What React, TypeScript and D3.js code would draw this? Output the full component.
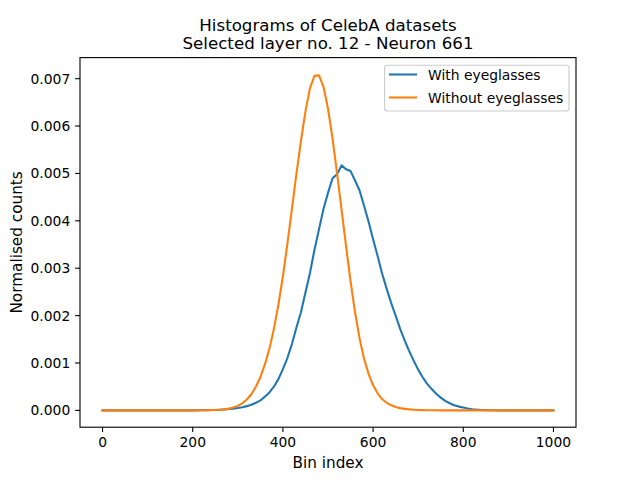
import React from "react";
import * as d3 from "d3";

const binIndex: number[] = d3.range(0, 1001, 10);

const withEyeglasses: number[] = [
  0, 0, 0, 0, 0, 0, 0, 0, 0, 0, 0, 0, 0, 0, 0, 0, 0, 0, 0, 0, 0,
  0.000002, 0.000003, 0.000005, 0.000007, 0.00001, 0.000014, 0.00002, 0.000028, 0.000038, 0.00005,
  0.000068, 0.00009, 0.00012, 0.00016, 0.00021, 0.00029, 0.00038, 0.0005, 0.00066, 0.00087,
  0.00111, 0.0014, 0.00175, 0.00207, 0.00249, 0.0029, 0.00339, 0.00382, 0.00425, 0.00459,
  0.0049, 0.00498, 0.00517, 0.00509, 0.00505, 0.00485, 0.00464, 0.00432, 0.00398, 0.00361,
  0.00326, 0.00289, 0.00257, 0.00227, 0.002, 0.00172, 0.00148, 0.00125, 0.00105, 0.00086,
  0.0007, 0.00056, 0.00045, 0.00035, 0.00027, 0.0002, 0.00015, 0.00011, 0.00008, 0.00006,
  0.00004, 0.000026, 0.000016, 0.00001, 0.000006, 0.000004, 0.000002, 0.000001,
  0, 0, 0, 0, 0, 0, 0, 0, 0, 0, 0, 0,
];

const withoutEyeglasses: number[] = [
  0, 0, 0, 0, 0, 0, 0, 0, 0, 0, 0, 0, 0, 0, 0, 0, 0, 0, 0, 0, 0,
  0.000001, 0.000002, 0.000003, 0.000005, 0.000008, 0.000013, 0.000022, 0.000037, 0.00006, 0.000095,
  0.00015, 0.00023, 0.00034, 0.0005, 0.0007, 0.00097, 0.0013, 0.00172, 0.00223, 0.00283,
  0.00352, 0.00425, 0.00499, 0.00569, 0.00631, 0.0068, 0.00706, 0.00707, 0.00683, 0.00637,
  0.00574, 0.00501, 0.00424, 0.00347, 0.00273, 0.00207, 0.00152, 0.00109, 0.00077, 0.00053,
  0.00036, 0.00024, 0.00016, 0.00011, 0.000072, 0.000048, 0.000032, 0.000021, 0.000014, 0.000009,
  0.000006, 0.000004, 0.000003, 0.000002, 0.000001,
  0, 0, 0, 0, 0, 0, 0, 0, 0, 0, 0, 0, 0, 0, 0, 0, 0, 0, 0, 0, 0, 0, 0, 0, 0,
];

const xTicks: number[] = [0, 200, 400, 600, 800, 1000];
const yTicks: number[] = [0, 0.001, 0.002, 0.003, 0.004, 0.005, 0.006, 0.007];
const seriesNames: string[] = ["With eyeglasses", "Without eyeglasses"];
const seriesColors: string[] = ["#1f77b4", "#ff7f0e"];
const titleLines: string[] = ["Histograms of CelebA datasets", "Selected layer no. 12 - Neuron 661"];

const W = 640;
const H = 480;
const L = 80;
const R = 576;
const T = 57.6;
const B = 427.2;
const FONT = "DejaVu Sans, sans-serif";

export default function App() {
  const yMax = 0.00709;
  const x = d3.scaleLinear().domain([-50, 1050]).range([L, R]);
  const y = d3.scaleLinear().domain([-0.05 * yMax, 1.05 * yMax]).range([B, T]);
  const line = d3
    .line<number>()
    .x((_, i) => x(binIndex[i]))
    .y((d) => y(d));
  const series = [withEyeglasses, withoutEyeglasses];
  const tickLen = 4.86;
  const fmt = d3.format(".3f");

  return (
    <div style={{ position: "absolute", left: 0, top: 0 }}>
      <svg width={W} height={H} style={{ display: "block", background: "#fff" }} fontFamily={FONT}>
        <rect x={0} y={0} width={W} height={H} fill="#fff" />
        <defs>
          <clipPath id="plotclip">
            <rect x={L} y={T} width={R - L} height={B - T} />
          </clipPath>
        </defs>
        <g clipPath="url(#plotclip)">
          {series.map((s, k) => (
            <path
              key={k}
              d={line(s) || ""}
              fill="none"
              stroke={seriesColors[k]}
              strokeWidth={2.08}
              strokeLinejoin="round"
              strokeLinecap="square"
            />
          ))}
        </g>
        <rect x={L} y={T} width={R - L} height={B - T} fill="none" stroke="#000" strokeWidth={1.11} />
        {xTicks.map((t) => (
          <g key={t}>
            <line x1={x(t)} x2={x(t)} y1={B} y2={B + tickLen} stroke="#000" strokeWidth={1.11} />
            <text x={x(t)} y={B + tickLen + 4.86 + 10.5} fontSize={13.89} textAnchor="middle" fill="#000">
              {t}
            </text>
          </g>
        ))}
        {yTicks.map((t) => (
          <g key={t}>
            <line x1={L - tickLen} x2={L} y1={y(t)} y2={y(t)} stroke="#000" strokeWidth={1.11} />
            <text x={L - tickLen - 4.86} y={y(t)} dy="0.36em" fontSize={13.89} textAnchor="end" fill="#000">
              {fmt(t)}
            </text>
          </g>
        ))}
        <text x={(L + R) / 2} y={468} fontSize={15.28} textAnchor="middle" fill="#000">
          Bin index
        </text>
        <text
          transform={`translate(22,${(T + B) / 2}) rotate(-90)`}
          fontSize={15.28}
          textAnchor="middle"
          fill="#000"
        >
          Normalised counts
        </text>
        {titleLines.map((t, i) => (
          <text key={i} x={(L + R) / 2} y={31 + i * 18.3} fontSize={16.67} textAnchor="middle" fill="#000">
            {t}
          </text>
        ))}
        <g>
          <rect x={384.5} y={65.3} width={184.5} height={45.7} rx={3} ry={3} fill="#fff" fillOpacity={0.8} stroke="#cccccc" strokeWidth={1.11} />
          {seriesNames.map((n, i) => (
            <g key={n}>
              <line x1={389} x2={417} y1={74.5 + i * 23} y2={74.5 + i * 23} stroke={seriesColors[i]} strokeWidth={2.08} />
              <text x={428} y={74.5 + i * 23} dy="0.36em" fontSize={13.89} fill="#000">
                {n}
              </text>
            </g>
          ))}
        </g>
      </svg>
    </div>
  );
}
